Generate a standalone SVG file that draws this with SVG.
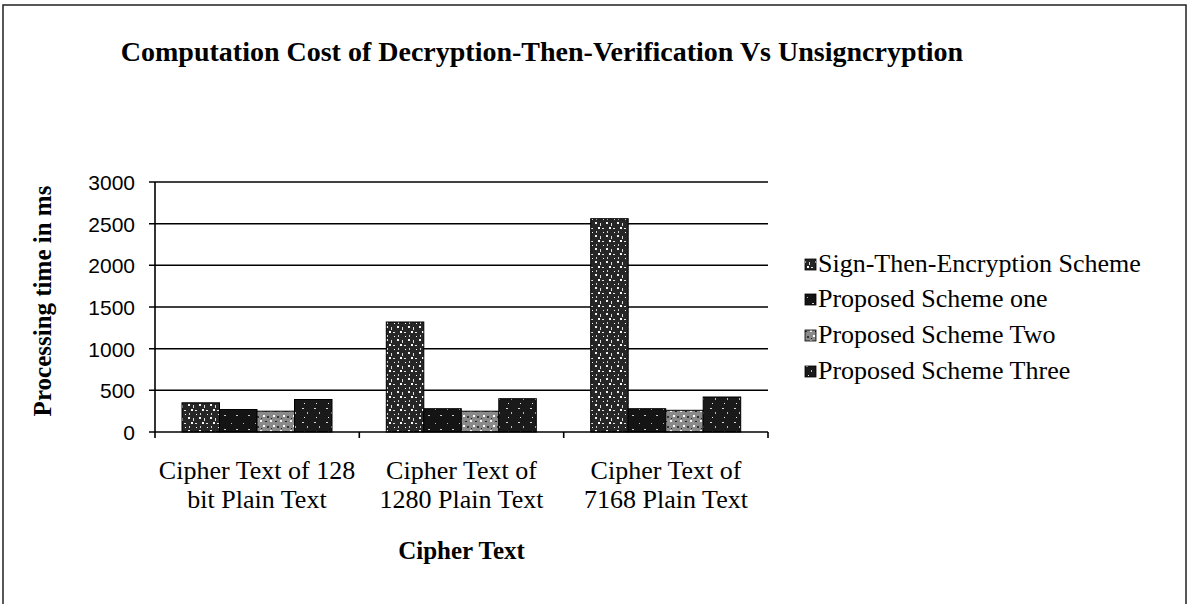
<svg xmlns="http://www.w3.org/2000/svg" width="1194" height="604" viewBox="0 0 1194 604">
<style>
.ttl{font-family:"Liberation Serif","Times New Roman",serif;font-weight:bold;font-size:28px;fill:#000}
.axt{font-family:"Liberation Serif","Times New Roman",serif;font-weight:bold;font-size:25px;fill:#000}
.cat{font-family:"Liberation Serif","Times New Roman",serif;font-size:26px;fill:#000;text-anchor:middle}
.leg{font-family:"Liberation Serif","Times New Roman",serif;font-size:26px;fill:#000}
.tick{font-family:"Liberation Sans",Arial,sans-serif;font-size:21px;fill:#000;text-anchor:end}
.grid{stroke:#000;stroke-width:1.6}
.ax{stroke:#000;stroke-width:1.6;fill:none}
.bar{stroke:#000;stroke-width:1}
</style>
<defs>
<pattern id="p1" width="11" height="13" patternUnits="userSpaceOnUse">
<rect width="11" height="13" fill="#262626"/>
<rect x="1" y="1" width="2" height="2" fill="#f2f2f2"/>
<rect x="6" y="2" width="1" height="3" fill="#dcdcdc"/>
<rect x="4" y="6" width="2" height="2" fill="#fff"/>
<rect x="8" y="7" width="2" height="1" fill="#e6e6e6"/>
<rect x="2" y="10" width="1" height="2" fill="#cfcfcf"/>
<rect x="9" y="11" width="1" height="1" fill="#fff"/>
</pattern>
<pattern id="p2" width="12" height="14" patternUnits="userSpaceOnUse">
<rect width="12" height="14" fill="#141414"/>
<rect x="3" y="3" width="1" height="1" fill="#bbb"/>
<rect x="8" y="9" width="2" height="1" fill="#ccc"/>
</pattern>
<pattern id="p3" width="10" height="10" patternUnits="userSpaceOnUse">
<rect width="10" height="10" fill="#8a8a8a"/>
<rect x="0" y="0" width="2" height="2" fill="#f0f0f0"/>
<rect x="5" y="1" width="2" height="1" fill="#222"/>
<rect x="3" y="5" width="2" height="2" fill="#fff"/>
<rect x="7" y="6" width="2" height="2" fill="#333"/>
<rect x="1" y="8" width="1" height="1" fill="#222"/>
</pattern>
<pattern id="p4" width="12" height="14" patternUnits="userSpaceOnUse">
<rect width="12" height="14" fill="#1a1a1a"/>
<rect x="2" y="2" width="2" height="1" fill="#d8d8d8"/>
<rect x="7" y="6" width="1" height="2" fill="#bbb"/>
<rect x="4" y="11" width="1" height="1" fill="#eee"/>
</pattern>
</defs>

<g id="frame" fill="none" stroke="#222" stroke-width="1.5">
<path d="M3 604 V5 H1186 V604"/>
</g>

<g id="title">
<text class="ttl" x="542" y="61" text-anchor="middle">Computation Cost of Decryption-Then-Verification Vs Unsigncryption</text>
</g>

<g id="gridlines">
<line class="grid" x1="149" y1="182" x2="768" y2="182"/>
<line class="grid" x1="149" y1="223.7" x2="768" y2="223.7"/>
<line class="grid" x1="149" y1="265.3" x2="768" y2="265.3"/>
<line class="grid" x1="149" y1="307" x2="768" y2="307"/>
<line class="grid" x1="149" y1="348.7" x2="768" y2="348.7"/>
<line class="grid" x1="149" y1="390.3" x2="768" y2="390.3"/>
</g>

<g id="yticks">
<text class="tick" x="135" y="190">3000</text>
<text class="tick" x="135" y="231.7">2500</text>
<text class="tick" x="135" y="273.3">2000</text>
<text class="tick" x="135" y="315">1500</text>
<text class="tick" x="135" y="356.7">1000</text>
<text class="tick" x="135" y="398.3">500</text>
<text class="tick" x="135" y="440">0</text>
</g>

<g id="ytitle">
<text class="axt" transform="translate(51 301) rotate(-90)" text-anchor="middle">Processing time in ms</text>
</g>

<g id="bars">
<rect class="bar" x="182" y="402.8" width="37.5" height="29.2" fill="url(#p1)"/>
<rect class="bar" x="219.5" y="409.5" width="37.5" height="22.5" fill="url(#p2)"/>
<rect class="bar" x="257" y="411.2" width="37.5" height="20.8" fill="url(#p3)"/>
<rect class="bar" x="294.5" y="399.5" width="37.5" height="32.5" fill="url(#p4)"/>

<rect class="bar" x="386.3" y="322" width="37.5" height="110" fill="url(#p1)"/>
<rect class="bar" x="423.8" y="408.7" width="37.5" height="23.3" fill="url(#p2)"/>
<rect class="bar" x="461.3" y="411.2" width="37.5" height="20.8" fill="url(#p3)"/>
<rect class="bar" x="498.8" y="398.7" width="37.5" height="33.3" fill="url(#p4)"/>

<rect class="bar" x="590.7" y="218.7" width="37.5" height="213.3" fill="url(#p1)"/>
<rect class="bar" x="628.2" y="408.7" width="37.5" height="23.3" fill="url(#p2)"/>
<rect class="bar" x="665.7" y="410.3" width="37.5" height="21.7" fill="url(#p3)"/>
<rect class="bar" x="703.2" y="397" width="37.5" height="35" fill="url(#p4)"/>
</g>

<g id="axes">
<path class="ax" d="M155 182 V432"/>
<path class="ax" d="M149 432 H768"/>
<path class="ax" d="M155 432 V438 M359.3 432 V438 M563.7 432 V438 M768 432 V438"/>
</g>

<g id="xlabels">
<text class="cat" x="257" y="479">Cipher Text of 128</text>
<text class="cat" x="257" y="508">bit Plain Text</text>
<text class="cat" x="461.5" y="479">Cipher Text of</text>
<text class="cat" x="461.5" y="508">1280 Plain Text</text>
<text class="cat" x="666" y="479">Cipher Text of</text>
<text class="cat" x="666" y="508">7168 Plain Text</text>
</g>

<g id="xtitle">
<text class="axt" x="461.5" y="559" text-anchor="middle">Cipher Text</text>
</g>

<g id="legend">
<rect x="805" y="259" width="11" height="11" fill="url(#p1)" stroke="#000" stroke-width="0.8"/>
<text class="leg" x="818" y="272">Sign-Then-Encryption Scheme</text>
<rect x="805" y="294" width="11" height="11" fill="url(#p2)" stroke="#000" stroke-width="0.8"/>
<text class="leg" x="818" y="307">Proposed Scheme one</text>
<rect x="805" y="330" width="11" height="11" fill="url(#p3)" stroke="#000" stroke-width="0.8"/>
<text class="leg" x="818" y="343">Proposed Scheme Two</text>
<rect x="805" y="366" width="11" height="11" fill="url(#p4)" stroke="#000" stroke-width="0.8"/>
<text class="leg" x="818" y="379">Proposed Scheme Three</text>
</g>
</svg>
